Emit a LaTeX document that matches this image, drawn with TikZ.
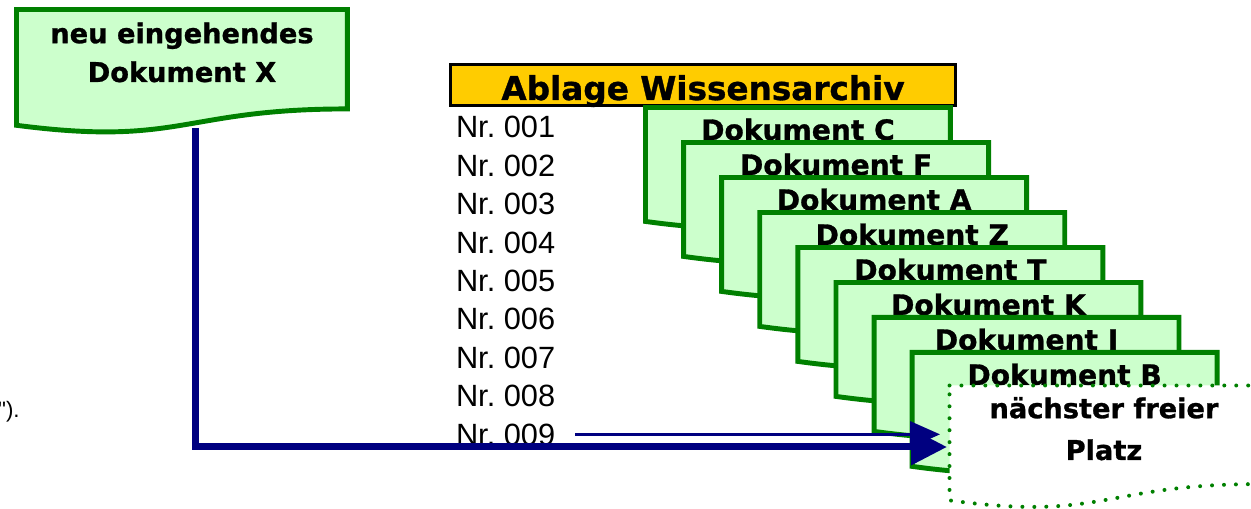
\documentclass[tikz,border=0pt]{standalone}
\usepackage{fontspec}
\setmainfont{Liberation Sans}
\newfontfamily\arial{Liberation Sans}
\newfontfamily\verdana{DejaVu Sans}[BoldFeatures={FakeBold=1}]
\definecolor{docgreen}{RGB}{0,128,0}
\definecolor{docfill}{RGB}{204,255,204}
\definecolor{archivyellow}{RGB}{255,204,0}
\definecolor{arrownavy}{RGB}{0,0,128}
\usetikzlibrary{arrows.meta, positioning, calc}

\begin{document}
\begin{tikzpicture}[x=0.02cm, y=0.02cm,
    docpath/.style={path picture={
        \path[#1] let \p1=([shift={(2.5,-2.5)}]path picture bounding box.north west),
                      \p2=([shift={(-2.5,2.5)}]path picture bounding box.south east) in
            (\x1,\y1) -- (\x2,\y1) -- (\x2,{\y1+0.802*(\y2-\y1)})
            .. controls ({0.5*(\x1+\x2)},{\y1+0.802*(\y2-\y1)})
                    and ({0.5*(\x1+\x2)},{\y1+1.1075*(\y2-\y1)})
            .. (\x1,{\y1+0.934*(\y2-\y1)}) -- cycle;}},
    doc/.style={rectangle, inner sep=0pt, outer sep=0pt, minimum width=6.2cm,
                text height=0.7cm, text depth=1.84cm, anchor=north west,
                font=\verdana\bfseries\fontsize{16}{22}\selectfont,
                docpath={draw=docgreen, fill=docfill, line width=2.8pt}},
    freeslot/.style={doc, minimum width=6.28cm, text height=1.54cm, text depth=1.02cm,
                align=center, font=\verdana\bfseries\fontsize{15.5}{23.8}\selectfont,
                docpath={draw=docgreen, fill=white, line width=2.27pt,
                         dash pattern=on 0pt off 6.8pt, line cap=round}},
    header/.style={rectangle, draw=black, fill=archivyellow, line width=1.7pt,
                   minimum width=10.1cm, minimum height=0.82cm, inner sep=0pt,
                   text height=0.6cm, text depth=0pt,
                   font=\verdana\bfseries\fontsize{18.6}{22}\selectfont},
    nrlabel/.style={inner sep=0pt, outer sep=0pt, text height=0.6cm, text depth=0.168cm,
                    font=\fontsize{17.5}{20}\selectfont},
    note/.style={inner sep=0pt, font=\arial\fontsize{12.7}{15}\selectfont},
    flow/.style={-{Triangle[length=20.4pt, width=19.8pt]}, line width=4pt, arrownavy},
    pointer/.style={-{Triangle[length=17pt, width=14.7pt]}, line width=1.4pt, arrownavy,
                    shorten <=0.4cm, shorten >=0.14cm}
]
\useasboundingbox (0,0) rectangle (1251,-509);

% incoming document
\node[doc, minimum width=6.72cm, text height=1.5cm, text depth=1.08cm, align=center,
      font=\verdana\bfseries\fontsize{15.5}{22.1}\selectfont] (neu) at (14,-7)
    {neu eingehendes\\Dokument X};
\node[note, anchor=base east] (rest) at (20,-418) {").};

% archive
\node[header] (ablage) at (703,-85) {Ablage Wissensarchiv};

\node[nrlabel, anchor=base west] (nr1) at (456,-138) {Nr.\ 001};
\node[nrlabel, below=0pt of nr1] (nr2) {Nr.\ 002};
\node[nrlabel, below=0pt of nr2] (nr3) {Nr.\ 003};
\node[nrlabel, below=0pt of nr3] (nr4) {Nr.\ 004};
\node[nrlabel, below=0pt of nr4] (nr5) {Nr.\ 005};
\node[nrlabel, below=0pt of nr5] (nr6) {Nr.\ 006};
\node[nrlabel, below=0pt of nr6] (nr7) {Nr.\ 007};
\node[nrlabel, below=0pt of nr7] (nr8) {Nr.\ 008};
\node[nrlabel, below=0pt of nr8] (nr9) {Nr.\ 009};

\node[doc] (docC) at (643,-105) {Dokument C};
\node[doc, below right=0.7cm and 0.762cm of docC.north west] (docF) {Dokument F};
\node[doc, below right=0.7cm and 0.762cm of docF.north west] (docA) {Dokument A};
\node[doc, below right=0.7cm and 0.762cm of docA.north west] (docZ) {Dokument Z};
\node[doc, below right=0.7cm and 0.762cm of docZ.north west] (docT) {Dokument T};
\node[doc, below right=0.7cm and 0.762cm of docT.north west] (docK) {Dokument K};
\node[doc, below right=0.7cm and 0.762cm of docK.north west] (docI) {Dokument I};
\node[doc, below right=0.7cm and 0.762cm of docI.north west] (docB) {Dokument B};

\node[freeslot] (platz) at (947,-383) {nächster freier\\Platz};

\draw[pointer] (nr9.east) -- (nr9.east -| platz.west);
\draw[flow] ([shift={(14,8)}]neu.south) |- (platz.west);
\end{tikzpicture}
\end{document}
